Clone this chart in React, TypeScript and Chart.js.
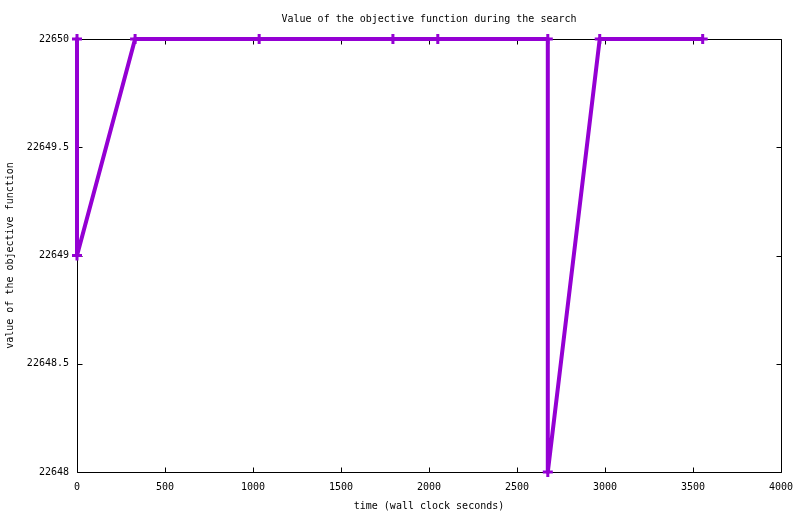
import React, { useEffect, useRef } from "react";
import { Chart, registerables } from "chart.js";

Chart.register(...registerables);

const times: number[] = [0, 0, 330, 1035, 1795, 2050, 2675, 2675, 2970, 3555];
const values: number[] = [22650, 22649, 22650, 22650, 22650, 22650, 22650, 22648, 22650, 22650];
const xTicks: number[] = [0, 500, 1000, 1500, 2000, 2500, 3000, 3500, 4000];
const yTicks: number[] = [22648, 22648.5, 22649, 22649.5, 22650];

const FONT = "'DejaVu Sans Mono', 'Liberation Mono', monospace";
const LINE_COLOR = "#9400D3";

const frameTicks = {
  id: "frameTicks",
  beforeDatasetsDraw(chart: any) {
    const { ctx, chartArea } = chart;
    const { left, right, top, bottom } = chartArea;
    const xs = chart.scales.x;
    const ys = chart.scales.y;
    ctx.save();
    ctx.strokeStyle = "#000";
    ctx.lineWidth = 1;
    ctx.beginPath();
    const L = Math.round(left) + 0.5;
    const R = Math.round(right) + 0.5;
    const T = Math.round(top) + 0.5;
    const B = Math.round(bottom) + 0.5;
    ctx.rect(L, T, R - L, B - T);
    const len = 5;
    xTicks.forEach((v) => {
      const px = Math.round(xs.getPixelForValue(v)) + 0.5;
      ctx.moveTo(px, B);
      ctx.lineTo(px, B - len);
      ctx.moveTo(px, T);
      ctx.lineTo(px, T + len);
    });
    yTicks.forEach((v) => {
      const py = Math.round(ys.getPixelForValue(v)) + 0.5;
      ctx.moveTo(L, py);
      ctx.lineTo(L + len, py);
      ctx.moveTo(R, py);
      ctx.lineTo(R - len, py);
    });
    ctx.stroke();
    ctx.restore();
  },
};

export default function App() {
  const ref = useRef<HTMLCanvasElement | null>(null);
  useEffect(() => {
    document.body.style.margin = "0";
    const canvas = ref.current;
    if (!canvas) return;
    const chart = new Chart(canvas, {
      type: "line",
      data: {
        datasets: [
          {
            data: times.map((t, i) => ({ x: t, y: values[i] })),
            borderColor: LINE_COLOR,
            backgroundColor: LINE_COLOR,
            borderWidth: 4,
            borderJoinStyle: "round",
            pointStyle: "cross",
            pointRadius: 5,
            pointBorderWidth: 3,
            pointBorderColor: LINE_COLOR,
            tension: 0,
            fill: false,
            clip: false as any,
          },
        ],
      },
      options: {
        animation: false,
        responsive: false,
        devicePixelRatio: 1,
        events: [],
        layout: { padding: { top: 0, right: 0, left: 0, bottom: 0 } },
        plugins: {
          legend: { display: false },
          tooltip: { enabled: false },
          title: {
            display: true,
            fullSize: false,
            text: "Value of the objective function during the search",
            color: "#000",
            font: { family: FONT, size: 10, weight: "normal" as any, lineHeight: 1.2 },
            padding: { top: 13, bottom: 14 },
          },
        },
        scales: {
          x: {
            type: "linear",
            min: 0,
            max: 4000,
            afterBuildTicks: (s: any) => {
              s.ticks = xTicks.map((v) => ({ value: v }));
            },
            afterFit: (s: any) => {
              s.height = 42;
              s.paddingRight = 19;
              s.paddingLeft = 0;
            },
            grid: { display: true, drawOnChartArea: false, drawTicks: false },
            border: { display: false },
            ticks: {
              color: "#000",
              font: { family: FONT, size: 10 },
              padding: 9,
              maxRotation: 0,
              callback: (v: any) => String(v),
            },
            title: {
              display: true,
              text: "time (wall clock seconds)",
              color: "#000",
              font: { family: FONT, size: 10 },
              padding: { top: 4, bottom: 2 },
            },
          },
          y: {
            type: "linear",
            min: 22648,
            max: 22650,
            afterBuildTicks: (s: any) => {
              s.ticks = yTicks.map((v) => ({ value: v }));
            },
            afterFit: (s: any) => {
              s.width = 77;
            },
            grid: { display: true, drawOnChartArea: false, drawTicks: false },
            border: { display: false },
            ticks: {
              color: "#000",
              font: { family: FONT, size: 10 },
              padding: 8,
              callback: (v: any) => String(v),
            },
            title: {
              display: true,
              text: "value of the objective function",
              color: "#000",
              font: { family: FONT, size: 10 },
              padding: { top: 4, bottom: 0 },
            },
          },
        },
      },
      plugins: [frameTicks],
    });
    return () => chart.destroy();
  }, []);
  return (
    <div style={{ width: 800, height: 514 }}>
      <canvas ref={ref} width={800} height={514} style={{ display: "block", width: 800, height: 514 }} />
    </div>
  );
}
